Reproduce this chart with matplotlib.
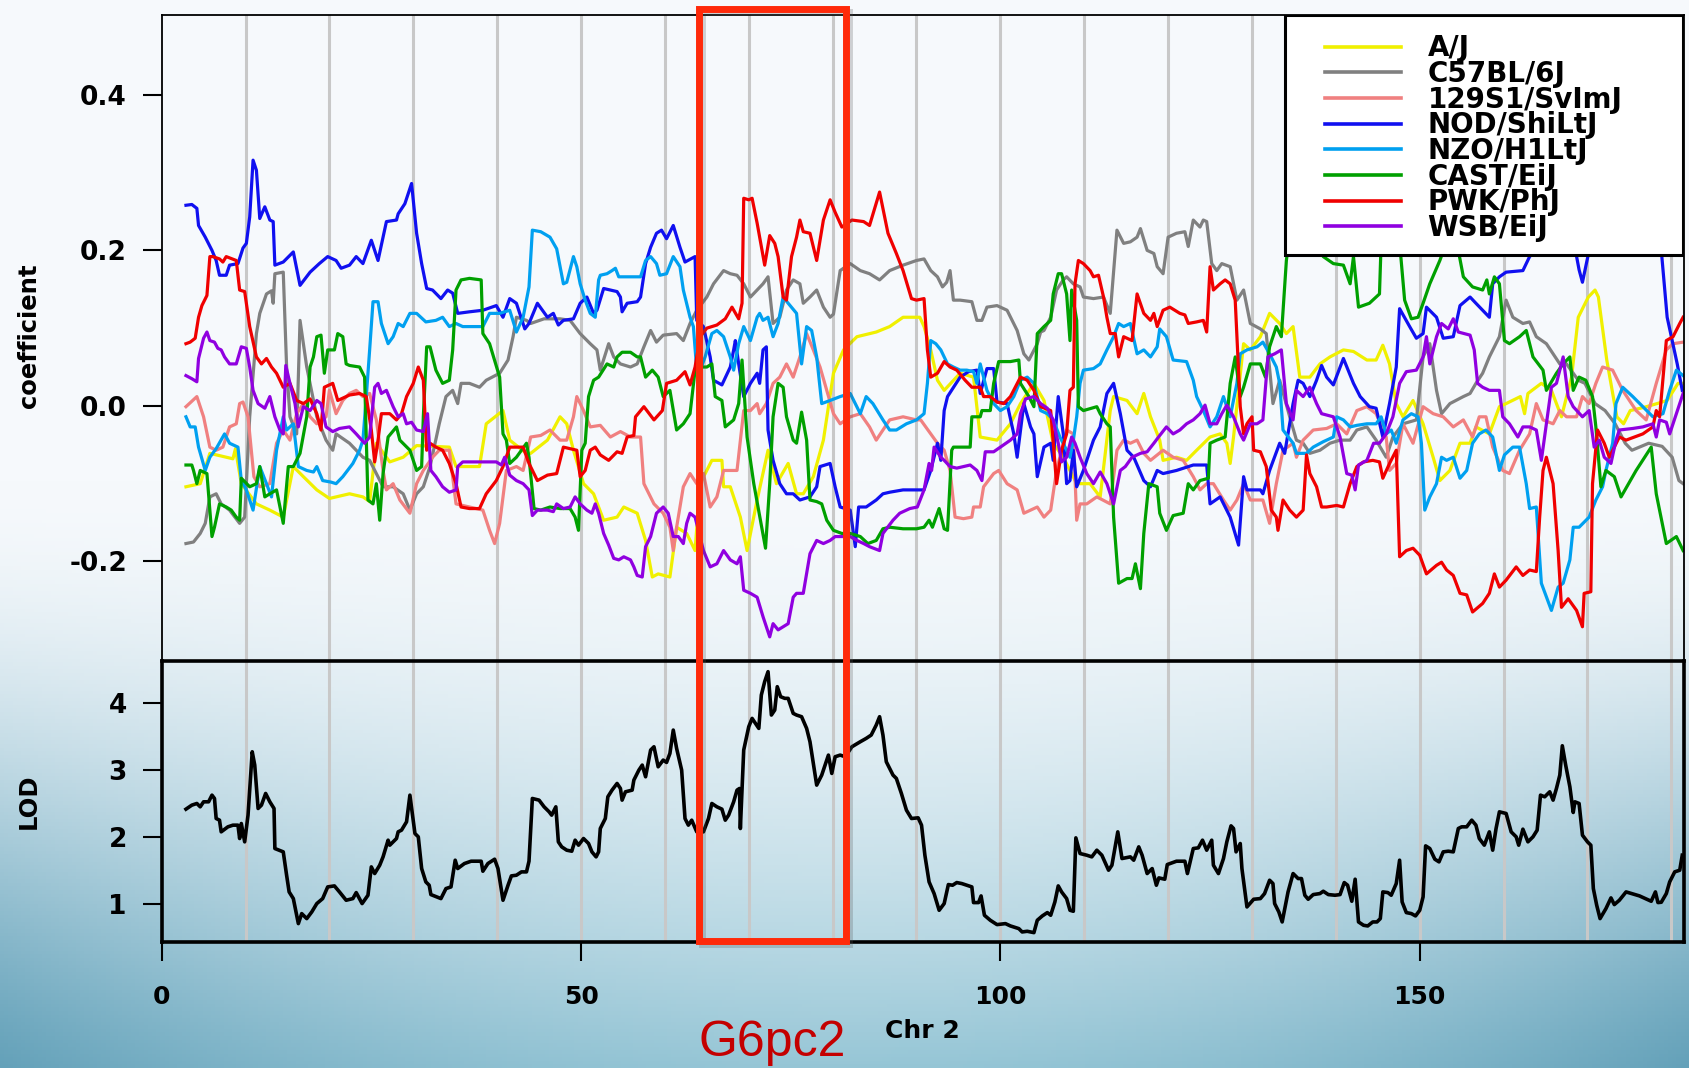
import numpy as np
import matplotlib
matplotlib.use("Agg")
import matplotlib.pyplot as plt
from matplotlib.patches import Rectangle
from matplotlib.lines import Line2D
from matplotlib.transforms import blended_transform_factory

plt.rcParams['font.family'] = ['DejaVu Sans']
plt.rcParams['font.weight'] = 'bold'
plt.rcParams['axes.unicode_minus'] = False

# founder strain coefficients on Chr 2, (position Mb, coefficient)
strains = ['A/J', 'C57BL/6J', '129S1/SvImJ', 'NOD/ShiLtJ', 'NZO/H1LtJ', 'CAST/EiJ', 'PWK/PhJ', 'WSB/EiJ']
colors = ['#F0F000', '#808080', '#F08080', '#1010F0', '#00A0F0', '#00A000', '#F00000', '#9000E0']

aj = [(2.9,-0.104),(4.6,-0.100),(5.75,-0.061),(8.5,-0.068),(8.8,-0.055),(9.5,-0.100),(11.3,-0.126),(12.9,-0.134),(14.5,-0.143),(15.7,-0.078),(16.9,-0.091),(18.5,-0.108),(20.0,-0.119),(22.4,-0.113),(24.0,-0.117),(24.8,-0.123),(25.6,-0.048),(27.2,-0.072),(28.8,-0.066),(30.4,-0.051),(34.3,-0.053),(35.1,-0.078),(37.9,-0.078),(38.7,-0.023),(40.7,-0.006),(41.5,-0.044),(43.5,-0.061),
      (44.0,-0.061),(46.0,-0.044),(47.5,-0.014),(48.3,-0.023),(49.1,-0.057),(50.3,-0.100),(51.5,-0.113),(52.7,-0.147),(54.3,-0.143),(55.1,-0.130),(56.7,-0.138),(57.7,-0.173),(58.5,-0.220),(59.2,-0.216),(60.6,-0.220),(61.4,-0.156),(62.6,-0.164),(63.6,-0.186),(64.2,-0.100),(65.6,-0.070),(66.8,-0.070),(67.0,-0.104),(67.8,-0.104),(69.0,-0.143),(69.8,-0.186),(71.0,-0.121),(72.3,-0.057),(73.3,-0.100),(74.7,-0.074),(75.7,-0.113),(76.5,-0.113),(77.7,-0.091),(78.9,-0.044),(80.1,0.042),(81.3,0.072),(82.9,0.089),(85.2,0.095),(86.8,0.102),(88.4,0.114),(90.4,0.114),
      (90.9,0.102),(91.7,0.072),(92.5,0.033),(93.3,0.020),(95.2,0.042),(96.8,0.037),(97.6,-0.040),(99.6,-0.044),(101.2,-0.023),(102.4,0.003),(104.0,0.029),(105.2,0.007),(106.3,-0.048),(107.5,-0.066),(109.1,-0.100),(110.7,-0.100),(111.9,-0.117),(113.1,-0.006),(113.5,0.012),(115.1,0.007),(116.3,-0.010),(117.1,0.016),(117.9,-0.014),(119.0,-0.044),(119.4,-0.070),(121.0,-0.066),(122.2,-0.070),(123.4,-0.057),(125.0,-0.040),(126.2,-0.036),(127.0,-0.048),(127.4,-0.074),(127.8,-0.040),(129.0,0.080),(129.8,0.072),(131.0,0.089),(132.1,0.119),(133.3,0.106),(134.1,0.093),(134.9,0.102),
      (135.7,0.037),(136.9,0.037),(138.1,0.054),(139.3,0.063),(140.9,0.072),(142.1,0.070),(143.7,0.059),(144.8,0.059),(145.6,0.078),(146.4,0.054),(147.2,0.003),(148.0,-0.014),(149.2,0.007),(150.4,-0.023),(151.6,-0.066),(152.4,-0.096),(153.6,-0.083),(154.8,-0.048),(156.0,-0.048),(156.7,-0.027),(158.3,-0.036),(159.5,-0.001),(160.3,0.003),(162.0,0.012),(162.5,-0.010),(162.9,0.016),(164.5,0.029),(165.7,0.020),(166.9,-0.014),(168.1,0.037),(168.9,0.114),(170.1,0.140),(170.9,0.149),(171.3,0.140),(172.3,0.059),(173.5,-0.014),(174.3,-0.023),(175.1,-0.006),(176.7,-0.002),(178.3,0.003),(179.5,0.007),(180.8,0.029),(181.4,0.029)]

b6 = [(2.9,-0.177),(3.8,-0.175),(4.6,-0.164),(5.2,-0.151),(5.75,-0.117),(6.5,-0.113),(7.1,-0.126),(8.1,-0.134),(9.3,-0.151),(9.9,-0.143),(10.5,-0.014),(11.3,0.093),(11.7,0.119),(12.5,0.144),(13.1,0.148),(13.3,0.132),(13.5,0.170),(14.5,0.172),(14.9,0.050),(15.3,-0.014),(16.1,-0.036),(16.5,0.110),(17.3,0.050),(18.5,-0.014),(19.6,-0.044),(20.4,-0.057),(20.8,-0.036),(22.4,-0.048),(24.0,-0.066),(24.8,-0.070),(25.6,-0.087),(26.4,-0.104),(27.6,-0.104),(28.8,-0.113),(29.6,-0.134),(30.4,-0.113),(31.2,-0.104),(32.0,-0.078),(33.1,-0.023),(33.9,0.012),(34.7,0.020),(35.3,0.003),(35.7,0.029),(36.7,0.029),(37.9,0.024),(38.7,0.033),(40.3,0.042),(41.3,0.059),(41.9,0.089),(42.3,0.114),(43.5,0.110),
      (44.0,0.106),(45.6,0.112),(47.5,0.112),(48.7,0.110),(49.9,0.093),(51.1,0.080),(51.9,0.072),(52.3,0.046),(53.3,0.080),(53.9,0.063),(54.7,0.054),(55.9,0.050),(56.7,0.054),(57.5,0.076),(58.3,0.097),(59.0,0.082),(59.8,0.091),(61.4,0.093),(62.2,0.084),(63.0,0.106),(63.8,0.123),(65.0,0.140),(65.8,0.157),(67.0,0.174),(67.8,0.170),(68.6,0.168),(69.4,0.157),(70.2,0.140),(71.0,0.149),(71.7,0.157),(72.3,0.166),(72.9,0.106),(73.7,0.114),(74.5,0.149),(75.3,0.162),(76.1,0.157),(76.5,0.132),(77.3,0.140),(78.1,0.149),(78.9,0.127),(79.7,0.114),(80.1,0.118),(80.9,0.174),(82.1,0.183),(83.3,0.174),(84.4,0.170),(85.6,0.162),(86.8,0.174),(88.4,0.181),(90.0,0.187),
      (90.9,0.189),(91.7,0.174),(92.5,0.166),(93.1,0.153),(93.6,0.159),(94.0,0.174),(94.4,0.136),(95.2,0.136),(96.6,0.134),(97.2,0.110),(97.8,0.110),(98.4,0.127),(99.6,0.129),(100.8,0.123),(102.0,0.097),(102.8,0.067),(103.4,0.059),(104.4,0.080),(104.8,0.095),(105.2,0.097),(106.0,0.114),(106.7,0.149),(107.5,0.162),(107.9,0.166),(108.7,0.157),(109.5,0.153),(109.9,0.140),(111.1,0.138),(112.3,0.140),(113.1,0.119),(113.9,0.226),(114.7,0.209),(115.5,0.211),(116.3,0.217),(116.7,0.228),(117.5,0.200),(118.3,0.196),(118.7,0.179),(119.4,0.170),(120.0,0.217),(121.0,0.222),(122.0,0.224),(122.4,0.205),(123.0,0.239),(123.8,0.230),(124.2,0.239),(124.6,0.237),(125.2,0.183),(125.8,0.174),(126.4,0.183),(127.4,0.179),(128.2,0.136),(129.0,0.149),(129.8,0.106),(131.0,0.099),(131.7,0.093),(132.5,0.003),(133.3,0.033),(134.5,-0.014),(135.3,-0.044),
      (136.1,-0.048),(136.9,-0.061),(138.1,-0.057),(139.3,-0.048),(140.5,-0.044),(141.7,-0.044),(142.5,-0.031),(143.7,-0.027),(144.8,-0.044),(146.0,-0.066),(146.8,-0.040),(148.0,-0.023),(149.6,-0.018),(150.4,0.063),(151.2,0.080),(152.0,0.020),(152.6,-0.010),(153.6,0.003),(155.2,0.012),(156.0,0.016),(156.7,0.029),(157.5,0.042),(158.3,0.063),(159.5,0.089),(160.3,0.136),(161.1,0.114),(162.3,0.106),(163.1,0.108),(163.9,0.089),(165.1,0.080),(165.9,0.067),(166.7,0.054),(167.5,0.054),(168.9,0.033),(169.7,0.029),(170.9,0.003),(172.1,-0.006),(173.3,-0.023),(174.5,-0.048),(175.3,-0.057),(177.3,-0.048),(178.9,-0.052),(180.1,-0.066),(180.9,-0.096),(181.4,-0.100)]

s129 = [(2.9,-0.001),(4.2,0.012),(5.0,-0.014),(5.75,-0.053),(6.5,-0.057),(7.3,-0.053),(8.1,-0.027),(8.9,-0.023),(9.3,0.003),(9.7,0.005),(10.3,-0.014),(11.0,-0.091),(11.7,-0.104),(12.9,-0.100),(13.7,-0.048),(14.5,-0.031),(15.3,-0.044),(16.1,-0.010),(16.9,0.003),(17.7,-0.014),(18.5,-0.023),(19.6,-0.014),(20.0,0.020),(20.8,-0.010),(21.6,0.007),(22.4,0.016),(23.2,0.020),(24.0,0.012),(24.8,0.016),(25.6,-0.018),(26.4,-0.083),(26.8,-0.108),(27.6,-0.100),(28.4,-0.121),(29.6,-0.138),(30.4,-0.100),(31.2,-0.083),(32.3,-0.066),(33.1,-0.057),(34.3,-0.057),(35.1,-0.126),(36.7,-0.130),(38.3,-0.134),(39.1,-0.160),(39.7,-0.177),(40.3,-0.151),(41.1,-0.083),(42.3,-0.078),(43.1,-0.083),
        (44.0,-0.040),(45.2,-0.038),(46.3,-0.031),(47.5,-0.044),(48.3,-0.044),(49.1,-0.014),(49.5,0.012),(50.3,-0.006),(51.1,-0.027),(52.3,-0.025),(53.5,-0.040),(54.7,-0.033),(55.9,-0.040),(57.1,-0.040),(57.5,-0.100),(58.7,-0.126),(59.8,-0.138),(60.6,-0.156),(61.0,-0.186),(61.4,-0.156),(62.2,-0.104),(63.0,-0.087),(63.8,-0.100),(64.6,-0.087),(65.4,-0.130),(66.2,-0.117),(67.0,-0.083),(68.6,-0.083),(69.4,-0.006),(70.2,-0.006),(71.0,0.003),(71.3,-0.010),(72.1,0.003),(72.9,0.029),(73.7,0.037),(74.5,0.054),(75.3,0.037),(76.1,0.063),(76.9,0.093),(77.7,0.072),(78.5,0.050),(79.3,0.020),(80.1,-0.010),(80.9,-0.023),(82.1,-0.014),(83.3,-0.010),(84.4,-0.027),(85.2,-0.044),(86.0,-0.031),(86.8,-0.018),(88.4,-0.014),(90.0,-0.018),
        (90.5,-0.018),(91.7,-0.036),(92.5,-0.048),(93.3,-0.057),(94.0,-0.083),(94.6,-0.143),(95.6,-0.145),(96.6,-0.143),(96.8,-0.130),(97.6,-0.130),(98.0,-0.104),(99.2,-0.087),(99.8,-0.083),(100.8,-0.100),(102.0,-0.108),(102.8,-0.138),(103.6,-0.134),(104.4,-0.130),(105.2,-0.143),(106.0,-0.134),(106.7,-0.083),(107.9,-0.031),(108.7,-0.036),(109.1,-0.147),(109.5,-0.126),(110.3,-0.126),(111.5,-0.117),(113.1,-0.126),(113.9,-0.057),(114.7,-0.044),(115.5,-0.048),(116.3,-0.044),(117.1,-0.061),(117.9,-0.070),(119.4,-0.057),(120.6,-0.066),(121.8,-0.070),(123.0,-0.091),(123.8,-0.108),(124.6,-0.100),(125.4,-0.100),(126.6,-0.121),(127.4,-0.134),(128.2,-0.121),(129.0,-0.100),(129.8,-0.121),(131.3,-0.121),(132.1,-0.151),(132.9,-0.100),(133.7,-0.057),(134.9,-0.048),
        (135.3,-0.066),(136.1,-0.044),(137.3,-0.031),(138.9,-0.029),(140.1,-0.023),(141.3,-0.036),(142.5,-0.006),(143.7,-0.001),(144.8,-0.010),(146.0,-0.040),(146.4,-0.083),(147.2,-0.074),(148.0,-0.023),(149.2,-0.048),(150.4,-0.001),(151.6,-0.010),(152.8,-0.014),(154.0,-0.027),(155.2,-0.018),(156.3,-0.040),(157.1,-0.014),(157.9,-0.014),(158.7,-0.053),(159.9,-0.083),(160.7,-0.087),(161.9,-0.057),(163.1,-0.036),(163.9,0.003),(164.7,-0.018),(165.9,-0.023),(166.7,-0.006),(167.5,-0.014),(168.7,-0.014),(169.4,0.012),(170.2,0.003),(171.0,0.029),(171.8,0.050),(173.0,0.046),(174.2,0.020),(175.8,-0.006),(177.0,-0.018),(178.2,0.029),(179.4,0.072),(180.2,0.080),(181.4,0.082)]

nod = [(2.9,0.258),(3.6,0.259),(4.2,0.254),(4.4,0.232),(5.2,0.217),(6.0,0.200),(6.5,0.187),(6.9,0.168),(7.7,0.168),(8.1,0.181),(9.1,0.183),(9.7,0.203),(10.1,0.209),(10.5,0.243),(10.9,0.316),(11.3,0.303),(11.7,0.241),(12.3,0.256),(12.9,0.239),(13.3,0.237),(13.5,0.181),(14.5,0.185),(15.7,0.198),(16.5,0.155),(17.7,0.172),(18.8,0.183),(19.8,0.192),(20.8,0.187),(21.4,0.177),(22.4,0.181),(23.2,0.192),(24.0,0.183),(25.0,0.213),(25.8,0.187),(26.8,0.237),(28.0,0.239),(28.2,0.247),(29.0,0.260),(29.8,0.286),(30.4,0.222),(31.0,0.183),(31.6,0.151),(32.3,0.149),(33.3,0.138),(34.1,0.149),(34.7,0.145),(35.3,0.119),(36.7,0.121),(38.3,0.123),(39.9,0.129),(40.7,0.114),(41.5,0.138),(42.3,0.132),(43.3,0.099),(43.8,0.106),
       (44.8,0.132),(46.0,0.114),(46.7,0.119),(47.3,0.104),(47.9,0.110),(49.1,0.112),(49.9,0.132),(50.7,0.140),(51.5,0.119),(51.9,0.123),(52.7,0.151),(54.3,0.147),(54.7,0.140),(54.9,0.121),(55.5,0.132),(56.7,0.134),(57.1,0.140),(57.7,0.183),(58.3,0.204),(59.0,0.222),(59.6,0.226),(60.2,0.215),(61.0,0.232),(61.8,0.204),(62.4,0.185),(63.6,0.192),(63.8,0.110),(64.6,0.102),(65.4,0.063),(65.8,0.033),(66.8,0.027),(67.8,0.050),(68.2,0.072),(68.4,0.084),(68.8,0.054),(69.4,0.012),(70.2,0.029),(71.0,0.042),(71.3,0.029),(71.7,0.072),(72.1,0.076),(72.3,-0.031),(72.9,-0.070),(73.7,-0.100),(74.5,-0.113),(75.3,-0.113),(76.1,-0.121),(77.3,-0.117),(78.1,-0.104),(78.5,-0.078),(79.7,-0.074),(80.3,-0.104),(80.9,-0.130),(82.1,-0.134),(82.7,-0.181),(83.1,-0.130),(84.0,-0.130),(85.2,-0.121),(86.0,-0.113),(86.8,-0.111),(88.4,-0.108),(90.4,-0.108),
       (90.9,-0.108),(91.7,-0.083),(92.5,-0.048),(92.9,-0.070),(93.3,-0.006),(93.7,0.012),(95.2,0.037),(96.2,0.044),(97.2,0.046),(97.6,0.016),(98.4,0.048),(99.2,0.048),(99.6,0.005),(100.8,0.003),(101.6,-0.036),(102.0,-0.066),(102.8,0.003),(103.6,-0.027),(104.0,-0.036),(104.4,-0.091),(105.2,-0.053),(106.0,-0.048),(106.3,-0.070),(106.9,0.012),(107.5,-0.036),(107.9,-0.100),(108.3,-0.096),(108.7,-0.057),(109.1,-0.104),(109.9,-0.083),(111.1,-0.044),(111.9,-0.027),(112.7,0.016),(113.5,0.029),(114.3,-0.010),(115.1,-0.057),(115.9,-0.066),(117.1,-0.096),(117.9,-0.104),(118.7,-0.083),(119.4,-0.087),(121.0,-0.083),(123.0,-0.076),(124.6,-0.076),(125.0,-0.126),(126.2,-0.117),(127.4,-0.143),(128.4,-0.179),(129.0,-0.091),(129.4,-0.108),(131.0,-0.108),(131.3,-0.113),(132.1,-0.083),(133.3,-0.048),(133.9,-0.061),(134.9,0.003),(135.5,0.033),(136.1,0.029),
       (136.9,0.012),(137.7,0.033),(138.3,0.052),(138.9,0.037),(139.7,0.027),(140.9,0.061),(142.1,0.029),(142.9,0.012),(144.0,-0.001),(144.8,-0.003),(145.6,-0.040),(146.4,0.003),(147.2,0.050),(147.6,0.125),(148.8,0.102),(149.6,0.087),(150.4,0.093),(150.8,0.127),(152.0,0.114),(152.8,0.087),(154.0,0.089),(154.8,0.129),(156.0,0.140),(156.7,0.132),(158.3,0.114),(158.7,0.157),(159.5,0.166),(160.3,0.172),(162.3,0.174),(163.1,0.192),(164.7,0.209),(165.5,0.235),(166.5,0.250),(167.5,0.240),(168.3,0.215),(169.0,0.175),(169.4,0.159),(170.2,0.200),(171.0,0.240),(172.5,0.260),(174.0,0.250),(175.5,0.235),(177.0,0.225),(178.3,0.215),(178.8,0.200),(179.5,0.114),(180.7,0.054),(181.3,0.020)]

nzo = [(2.9,-0.014),(3.4,-0.027),(4.0,-0.027),(4.4,-0.053),(5.2,-0.083),(5.75,-0.066),(6.5,-0.055),(7.5,-0.036),(8.1,-0.048),(9.1,-0.053),(9.5,-0.096),(10.1,-0.108),(10.9,-0.134),(11.7,-0.078),(12.5,-0.100),(13.1,-0.117),(13.7,-0.057),(14.5,-0.014),(14.9,-0.031),(15.7,-0.023),(16.3,-0.078),(17.3,-0.083),(18.1,-0.085),(18.5,-0.078),(19.2,-0.096),(20.2,-0.098),(20.8,-0.100),(21.6,-0.091),(22.8,-0.074),(23.6,-0.057),(24.0,-0.044),(24.4,0.012),(24.8,0.072),(25.2,0.134),(25.8,0.134),(26.2,0.106),(27.0,0.080),(27.6,0.089),(28.2,0.106),(28.8,0.102),(29.6,0.119),(30.4,0.119),(31.5,0.108),(32.7,0.110),(33.5,0.114),(34.3,0.102),(35.1,0.106),(35.9,0.102),(36.7,0.102),(38.3,0.102),(39.1,0.119),(40.3,0.119),(41.5,0.123),(42.3,0.095),(43.1,0.114),(43.8,0.153),(44.2,0.226),
       (45.2,0.224),(46.3,0.217),(47.1,0.202),(47.9,0.157),(48.3,0.159),(49.1,0.192),(49.5,0.179),(49.9,0.157),(50.5,0.136),(51.1,0.119),(51.7,0.114),(52.1,0.162),(52.3,0.168),(53.1,0.170),(53.7,0.174),(54.1,0.177),(54.5,0.166),(55.9,0.166),(57.1,0.166),(57.7,0.187),(58.3,0.192),(59.0,0.183),(59.4,0.168),(60.2,0.170),(61.0,0.192),(61.8,0.179),(62.2,0.149),(63.0,0.114),(63.4,0.102),(63.8,0.046),(64.2,0.046),(64.8,0.063),(65.6,0.093),(66.2,0.097),(67.0,0.089),(67.8,0.063),(68.2,0.046),(68.8,0.080),(69.4,0.102),(70.2,0.084),(71.0,0.114),(71.3,0.119),(71.7,0.110),(72.3,0.114),(72.9,0.089),(73.5,0.106),(74.1,0.140),(74.7,0.132),(75.7,0.119),(76.3,0.054),(76.9,0.102),(77.5,0.097),(78.1,0.063),(78.7,0.003),(79.7,0.007),(80.9,0.012),(82.1,0.016),(83.3,-0.010),(84.0,0.012),(84.8,0.003),(86.0,-0.018),(86.8,-0.031),(87.6,-0.031),(88.8,-0.023),(90.0,-0.018),
       (90.9,-0.010),(91.3,0.029),(91.7,0.084),(92.3,0.080),(92.9,0.072),(93.3,0.063),(93.7,0.054),(94.4,0.050),(95.2,0.046),(96.0,0.046),(96.8,0.044),(97.2,0.029),(97.6,0.054),(98.4,0.020),(99.2,0.003),(100.0,-0.006),(100.8,-0.001),(101.6,0.012),(102.4,0.033),(103.2,0.037),(104.0,0.029),(104.8,-0.006),(105.6,-0.010),(106.3,-0.018),(107.1,-0.040),(107.9,-0.057),(108.3,-0.066),(108.7,-0.044),(109.1,-0.014),(109.5,0.029),(109.9,0.046),(111.1,0.048),(111.9,0.054),(112.7,0.072),(113.5,0.089),(114.1,0.106),(114.7,0.102),(115.5,0.106),(116.3,0.067),(117.1,0.072),(117.9,0.063),(118.7,0.076),(119.0,0.099),(119.8,0.089),(120.6,0.059),(122.2,0.057),(123.0,0.033),(123.4,0.012),(124.2,-0.006),(125.0,-0.027),(125.8,-0.014),(126.6,0.012),(127.4,-0.014),(128.2,0.029),(128.6,0.067),(129.4,0.072),(130.6,0.076),(131.3,0.082),(132.1,0.067),(132.9,0.050),(133.3,0.029),(133.7,-0.031),(134.9,-0.048),
       (135.3,-0.061),(136.5,-0.061),(137.3,-0.053),(138.5,-0.046),(139.7,-0.040),(140.1,-0.014),(140.9,-0.018),(141.7,-0.027),(142.5,-0.025),(143.7,-0.023),(144.8,-0.023),(145.4,-0.014),(146.0,-0.036),(146.6,-0.031),(147.2,-0.048),(148.0,-0.018),(149.0,-0.010),(149.8,-0.014),(150.2,-0.048),(150.6,-0.134),(151.2,-0.117),(152.0,-0.100),(152.6,-0.066),(153.2,-0.070),(154.0,-0.066),(154.8,-0.093),(155.6,-0.083),(156.3,-0.048),(157.1,-0.036),(157.9,-0.031),(158.7,-0.040),(159.5,-0.083),(160.1,-0.063),(161.1,-0.053),(161.9,-0.053),(162.7,-0.100),(163.1,-0.132),(163.9,-0.130),(164.5,-0.228),(165.7,-0.263),(166.5,-0.233),(167.1,-0.228),(167.9,-0.198),(168.3,-0.156),(169.0,-0.156),(170.2,-0.143),(171.0,-0.121),(171.8,-0.104),(172.2,-0.083),(173.0,-0.048),(173.4,0.003),(174.2,0.024),(175.4,0.012),(176.6,-0.001),(177.8,-0.014),(179.0,-0.010),(179.8,0.020),(180.6,0.046),(181.4,0.039)]

cast = [(2.9,-0.076),(3.6,-0.076),(3.8,-0.083),(4.2,-0.100),(4.6,-0.083),(5.4,-0.087),(6.0,-0.168),(6.3,-0.156),(6.9,-0.126),(7.7,-0.130),(8.3,-0.134),(8.9,-0.143),(9.3,-0.147),(9.5,-0.093),(10.5,-0.104),(11.3,-0.100),(11.7,-0.078),(12.3,-0.117),(12.9,-0.113),(13.7,-0.108),(14.5,-0.151),(15.1,-0.078),(15.7,-0.078),(16.5,-0.061),(17.3,-0.014),(17.7,0.050),(18.1,0.063),(18.5,0.089),(19.0,0.091),(19.4,0.042),(19.8,0.072),(20.6,0.072),(21.0,0.093),(21.6,0.089),(22.0,0.054),(22.4,0.052),(23.6,0.050),(24.2,0.037),(24.6,-0.121),(25.2,-0.126),(25.6,-0.100),(26.0,-0.147),(26.4,-0.087),(27.0,-0.040),(28.0,-0.027),(28.4,-0.044),(29.6,-0.057),(30.4,-0.083),(31.0,-0.078),(31.2,-0.014),(31.6,0.076),(32.0,0.076),(32.7,0.046),(33.5,0.029),(34.3,0.033),(34.7,0.072),(35.1,0.149),(35.7,0.162),(36.7,0.164),(38.1,0.162),(38.3,0.093),(39.1,0.080),(40.3,0.037),(40.7,-0.036),(41.1,-0.044),(41.5,-0.074),(42.3,-0.066),(43.5,-0.048),(43.8,-0.066),(44.4,-0.132),
        (45.2,-0.134),(46.3,-0.130),(47.5,-0.132),(48.7,-0.132),(49.3,-0.143),(49.7,-0.160),(50.1,-0.057),(50.5,-0.048),(50.9,0.012),(51.5,0.033),(52.1,0.037),(53.1,0.054),(53.9,0.050),(54.3,0.063),(54.9,0.069),(55.9,0.069),(56.7,0.063),(57.1,0.063),(57.7,0.037),(58.5,0.046),(59.2,0.037),(59.8,0.012),(60.6,0.020),(61.4,-0.031),(62.2,-0.023),(63.0,-0.010),(63.6,0.046),(64.0,0.050),(65.0,0.050),(65.6,0.054),(66.0,0.012),(66.8,0.007),(67.2,-0.027),(68.2,-0.018),(68.8,0.003),(69.2,0.059),(69.8,-0.040),(70.6,-0.100),(72.0,-0.183),(72.5,-0.100),(72.9,-0.014),(73.5,0.029),(74.1,0.024),(74.5,-0.014),(75.3,-0.044),(75.7,-0.048),(76.3,-0.008),(76.9,-0.044),(77.3,-0.121),(78.1,-0.123),(78.7,-0.126),(79.3,-0.147),(80.1,-0.160),(81.1,-0.164),(82.1,-0.164),(83.3,-0.168),(84.2,-0.177),(85.2,-0.173),(86.0,-0.158),(86.8,-0.156),(88.4,-0.158),(90.0,-0.158),
        (90.9,-0.156),(91.5,-0.147),(91.9,-0.156),(92.7,-0.132),(93.3,-0.158),(93.7,-0.160),(94.2,-0.057),(94.4,-0.053),(96.4,-0.053),(96.6,-0.014),(97.6,-0.014),(97.8,-0.006),(98.8,-0.006),(99.2,0.029),(99.8,0.057),(101.2,0.057),(102.2,0.059),(102.4,0.029),(103.4,0.012),(104.0,-0.001),(104.4,0.093),(105.2,0.102),(106.0,0.110),(106.3,0.144),(106.9,0.170),(107.3,0.170),(107.9,0.144),(108.3,0.084),(108.5,0.149),(109.1,0.110),(109.3,-0.001),(109.9,-0.006),(111.5,-0.001),(111.9,-0.010),(112.7,-0.023),(113.1,-0.027),(113.5,-0.143),(114.1,-0.228),(115.1,-0.222),(115.7,-0.222),(116.1,-0.203),(116.7,-0.235),(117.1,-0.164),(117.7,-0.100),(118.7,-0.104),(119.0,-0.138),(119.8,-0.160),(120.6,-0.141),(121.8,-0.138),(122.4,-0.100),(123.0,-0.108),(123.8,-0.096),(124.8,-0.093),(125.0,-0.048),(125.8,-0.044),(126.8,-0.040),(127.4,0.029),(128.0,0.063),(128.6,0.012),(129.0,0.024),(129.8,0.054),(131.0,0.054),(131.6,0.037),(132.1,0.076),(132.9,0.102),(133.5,0.089),(134.1,0.187),(134.5,0.222),
        (135.5,0.260),(136.5,0.240),(137.5,0.210),(138.5,0.192),(139.7,0.183),(140.9,0.181),(141.7,0.157),(142.1,0.192),(142.7,0.127),(144.0,0.132),(145.2,0.144),(145.4,0.210),(146.5,0.250),(147.6,0.210),(148.2,0.136),(149.0,0.112),(149.8,0.114),(150.4,0.132),(151.2,0.157),(152.4,0.187),(153.5,0.220),(154.6,0.200),(155.2,0.166),(156.3,0.153),(157.5,0.149),(158.0,0.162),(158.3,0.144),(158.9,0.166),(159.5,0.157),(160.1,0.084),(160.7,0.080),(161.9,0.089),(162.7,0.097),(163.5,0.063),(164.7,0.046),(165.1,0.020),(166.3,0.042),(167.1,0.054),(167.9,0.063),(168.3,0.020),(169.0,0.037),(169.8,0.033),(170.6,0.012),(171.0,-0.027),(171.6,-0.104),(172.2,-0.083),(173.2,-0.091),(174.0,-0.117),(175.8,-0.083),(177.6,-0.053),(178.2,-0.113),(179.4,-0.177),(180.6,-0.168),(181.4,-0.186)]

pwk = [(2.9,0.080),(3.4,0.082),(4.0,0.087),(4.4,0.114),(4.8,0.129),(5.4,0.142),(5.75,0.192),(6.1,0.192),(6.9,0.189),(7.3,0.185),(7.7,0.192),(8.9,0.187),(9.3,0.149),(9.9,0.147),(10.5,0.102),(11.3,0.063),(11.9,0.054),(12.5,0.061),(13.1,0.050),(13.7,0.042),(14.5,0.024),(15.3,0.029),(16.1,0.007),(16.9,0.003),(17.7,0.009),(18.5,-0.010),(19.0,-0.031),(19.4,0.024),(20.4,0.029),(21.0,0.007),(22.4,0.014),(23.6,0.016),(24.4,0.012),(25.0,-0.031),(25.4,-0.072),(25.8,-0.044),(26.2,-0.010),(27.2,-0.010),(28.0,-0.018),(28.6,-0.010),(29.2,0.012),(30.0,0.029),(30.6,0.050),(31.2,0.033),(31.6,-0.057),(32.0,-0.048),(32.7,-0.053),(33.5,-0.057),(34.3,-0.074),(35.1,-0.100),(35.7,-0.130),(36.7,-0.132),(37.9,-0.132),(38.7,-0.113),(39.9,-0.096),(40.7,-0.078),(41.5,-0.053),(43.1,-0.053),(43.8,-0.074),
       (44.8,-0.096),(46.0,-0.089),(47.1,-0.087),(47.9,-0.053),(49.5,-0.057),(49.9,-0.091),(50.5,-0.083),(51.1,-0.057),(51.7,-0.053),(52.3,-0.063),(53.3,-0.070),(54.3,-0.059),(54.9,-0.061),(55.5,-0.040),(56.3,-0.038),(56.5,-0.014),(57.5,-0.001),(58.7,-0.018),(59.7,-0.006),(60.2,0.029),(61.4,0.033),(62.4,0.044),(63.0,0.027),(63.6,0.050),(64.2,0.089),(65.0,0.100),(66.2,0.104),(67.2,0.112),(68.0,0.127),(68.8,0.112),(69.2,0.132),(69.4,0.267),(70.0,0.265),(70.4,0.267),(71.0,0.235),(71.3,0.217),(71.9,0.181),(72.5,0.219),(73.1,0.209),(73.5,0.192),(74.1,0.140),(74.5,0.136),(75.1,0.192),(75.7,0.217),(76.1,0.239),(76.5,0.224),(77.3,0.222),(78.1,0.187),(78.9,0.239),(79.7,0.265),(80.3,0.249),(81.1,0.230),(82.3,0.239),(83.7,0.237),(84.4,0.232),(85.6,0.275),(86.6,0.222),(87.6,0.196),(88.4,0.174),(89.4,0.138),(90.0,0.136),(90.9,0.138),
       (91.3,0.072),(91.7,0.037),(92.5,0.042),(93.3,0.057),(94.0,0.050),(94.8,0.046),(95.8,0.033),(96.6,0.024),(97.6,0.024),(98.0,0.012),(98.8,0.012),(99.6,0.005),(100.4,0.003),(101.2,0.012),(102.4,0.037),(103.2,0.033),(104.0,0.020),(104.8,-0.001),(106.0,-0.006),(106.7,-0.100),(107.3,-0.057),(107.9,-0.036),(108.3,0.020),(108.7,0.024),(108.9,0.157),(109.3,0.187),(109.9,0.183),(110.7,0.174),(111.1,0.166),(111.7,0.168),(112.3,0.140),(112.7,0.114),(113.1,0.093),(113.7,0.093),(114.1,0.063),(114.7,0.089),(115.7,0.084),(116.3,0.144),(117.1,0.119),(117.9,0.110),(118.3,0.119),(118.7,0.102),(119.4,0.123),(120.2,0.127),(121.4,0.119),(122.0,0.117),(122.4,0.106),(123.4,0.108),(124.2,0.110),(124.6,0.095),(125.0,0.179),(125.4,0.149),(126.2,0.157),(126.8,0.162),(127.4,0.157),(128.0,0.136),(128.6,-0.001),(129.0,-0.036),(129.4,-0.023),(130.0,-0.014),(130.2,-0.057),(131.0,-0.059),(131.7,-0.078),(132.3,-0.134),(132.9,-0.143),(133.1,-0.160),(133.7,-0.121),(134.5,-0.134),(135.3,-0.143),(136.1,-0.134),(136.5,-0.063),
       (136.9,-0.087),(137.7,-0.104),(138.3,-0.130),(138.9,-0.130),(140.1,-0.128),(140.9,-0.130),(141.7,-0.100),(142.5,-0.078),(143.3,-0.072),(144.4,-0.070),(145.2,-0.072),(145.6,-0.093),(146.4,-0.074),(147.2,-0.057),(147.6,-0.194),(148.4,-0.186),(149.2,-0.183),(150.0,-0.192),(150.8,-0.216),(152.0,-0.205),(152.6,-0.201),(153.2,-0.211),(154.0,-0.218),(154.8,-0.241),(155.6,-0.243),(156.3,-0.265),(157.5,-0.254),(158.3,-0.241),(158.9,-0.216),(159.5,-0.233),(160.3,-0.224),(161.5,-0.207),(162.3,-0.218),(163.1,-0.211),(163.9,-0.213),(164.3,-0.143),(164.7,-0.083),(165.1,-0.066),(165.9,-0.100),(166.5,-0.186),(166.9,-0.259),(167.7,-0.248),(168.7,-0.263),(169.4,-0.284),(169.6,-0.241),(170.4,-0.239),(170.6,-0.100),(171.2,-0.031),(172.0,-0.048),(172.6,-0.066),(173.8,-0.040),(174.6,-0.044),(176.6,-0.036),(177.8,-0.027),(178.2,-0.006),(178.6,-0.014),(179.4,0.084),(180.2,0.089),(181.0,0.106),(181.4,0.114)]

wsb = [(2.9,0.039),(3.6,0.035),(4.2,0.031),(4.4,0.061),(5.0,0.087),(5.4,0.095),(5.75,0.084),(6.3,0.082),(6.7,0.074),(7.1,0.072),(7.5,0.063),(8.1,0.054),(8.9,0.054),(9.5,0.076),(10.1,0.074),(10.5,0.050),(10.9,0.020),(11.5,0.003),(12.3,-0.003),(12.9,0.012),(13.5,-0.014),(14.1,-0.031),(14.5,-0.036),(14.8,0.052),(15.3,0.029),(15.9,0.003),(16.3,-0.027),(16.9,-0.001),(17.7,-0.006),(18.5,0.007),(19.0,0.003),(19.6,-0.027),(20.4,-0.033),(21.2,-0.029),(22.4,-0.027),(23.2,-0.036),(24.2,-0.048),(24.8,-0.040),(25.4,0.024),(25.8,0.029),(26.2,0.016),(26.8,0.020),(27.6,-0.001),(28.2,-0.014),(28.8,-0.010),(29.2,-0.023),(29.8,-0.021),(30.4,-0.031),(31.2,-0.033),(31.7,-0.010),(32.1,-0.083),(32.7,-0.091),(33.5,-0.104),(34.3,-0.111),(35.1,-0.108),(35.3,-0.078),(35.9,-0.072),(37.9,-0.072),(39.9,-0.072),(40.5,-0.076),(40.9,-0.066),(41.5,-0.089),(42.3,-0.096),(43.1,-0.100),(43.8,-0.108),(44.2,-0.141),
       (44.8,-0.134),(46.0,-0.134),(46.7,-0.136),(47.1,-0.126),(47.9,-0.132),(48.7,-0.130),(49.3,-0.117),(49.9,-0.126),(50.7,-0.134),(51.3,-0.138),(51.7,-0.126),(52.1,-0.138),(52.7,-0.164),(53.3,-0.179),(53.9,-0.196),(54.5,-0.198),(55.1,-0.194),(55.9,-0.198),(56.3,-0.207),(56.7,-0.218),(57.3,-0.220),(57.7,-0.181),(58.3,-0.168),(59.0,-0.138),(59.8,-0.130),(60.4,-0.138),(61.0,-0.168),(61.6,-0.168),(62.2,-0.177),(62.6,-0.151),(63.0,-0.138),(63.6,-0.143),(64.6,-0.186),(65.4,-0.207),(66.2,-0.203),(67.0,-0.186),(67.8,-0.198),(68.6,-0.203),(69.0,-0.194),(69.4,-0.237),(70.2,-0.241),(71.0,-0.246),(71.7,-0.271),(72.5,-0.297),(72.9,-0.280),(73.5,-0.288),(74.1,-0.284),(74.7,-0.280),(75.3,-0.246),(75.7,-0.241),(76.5,-0.241),(77.3,-0.190),(78.1,-0.173),(78.9,-0.177),(79.7,-0.173),(80.3,-0.168),(81.3,-0.168),(82.1,-0.168),(82.9,-0.173),(83.7,-0.177),(84.4,-0.181),(85.6,-0.186),(86.0,-0.164),(87.2,-0.147),(88.0,-0.138),(89.2,-0.132),(90.1,-0.130),
       (90.9,-0.108),(91.5,-0.074),(91.8,-0.083),(92.1,-0.053),(92.9,-0.066),(93.3,-0.070),(94.0,-0.078),(94.8,-0.080),(95.6,-0.078),(96.4,-0.076),(97.2,-0.083),(97.8,-0.096),(98.2,-0.059),(99.2,-0.059),(100.0,-0.053),(101.2,-0.044),(102.0,-0.036),(102.4,-0.010),(103.0,0.009),(104.0,0.012),(104.8,0.003),(105.6,-0.003),(106.3,-0.018),(106.9,-0.048),(107.3,-0.072),(107.9,-0.066),(108.5,-0.040),(108.9,-0.048),(109.5,-0.066),(110.3,-0.087),(111.1,-0.100),(111.9,-0.085),(112.7,-0.100),(113.5,-0.126),(114.3,-0.083),(114.9,-0.078),(115.7,-0.066),(116.7,-0.061),(117.5,-0.059),(118.3,-0.048),(119.0,-0.038),(119.8,-0.027),(120.6,-0.036),(121.4,-0.031),(122.2,-0.023),(123.0,-0.018),(123.8,-0.010),(124.4,0.001),(125.0,-0.023),(125.8,-0.023),(126.4,-0.010),(127.0,0.001),(127.8,-0.014),(128.6,-0.036),(129.0,-0.044),(129.8,-0.023),(130.6,-0.023),(131.3,-0.018),(131.9,0.063),(132.7,0.067),(133.5,0.072),(134.1,0.003),(134.9,-0.018),
       (135.3,0.020),(136.1,0.012),(136.9,0.024),(137.7,0.003),(138.3,-0.010),(139.7,-0.014),(140.5,-0.040),(141.3,-0.087),(141.9,-0.089),(142.3,-0.108),(142.7,-0.076),(143.7,-0.070),(144.5,-0.048),(145.2,-0.048),(146.0,-0.036),(146.8,-0.014),(147.6,0.029),(148.4,0.044),(149.6,0.046),(150.4,0.063),(150.8,0.089),(151.2,0.054),(152.0,0.089),(152.6,0.106),(153.4,0.099),(154.0,0.112),(154.6,0.095),(156.0,0.091),(156.5,0.072),(156.9,0.029),(157.5,0.024),(158.3,0.020),(159.5,0.020),(159.9,-0.014),(160.7,-0.023),(161.7,-0.040),(162.3,-0.027),(163.1,-0.027),(163.9,-0.031),(164.5,-0.070),(165.1,-0.023),(165.7,0.024),(166.3,0.029),(166.7,0.046),(167.1,0.063),(167.7,0.012),(168.3,-0.001),(169.4,-0.014),(170.2,-0.006),(170.8,-0.053),(171.4,-0.044),(172.0,-0.066),(172.8,-0.074),(173.4,-0.044),(173.8,-0.031),(175.4,-0.029),(176.6,-0.027),(177.8,-0.023),(178.2,-0.040),(178.6,-0.018),(179.4,-0.021),(179.8,-0.036),(180.6,-0.010),(181.4,0.016)]

# LOD profile
lod = [(2.9,2.415),(3.6,2.475),(4.2,2.50),(4.6,2.45),(5.0,2.525),(5.6,2.525),(6.0,2.625),(6.3,2.575),(6.5,2.275),(6.9,2.25),(7.1,2.075),(7.9,2.15),(8.5,2.175),(9.1,2.175),(9.3,1.975),(9.5,2.2),(9.9,1.925),(10.3,2.325),(10.8,3.275),(11.1,3.075),(11.5,2.425),(11.9,2.475),(12.4,2.65),(12.9,2.525),(13.4,2.425),(13.5,1.825),(14.5,1.775),(14.9,1.425),(15.2,1.175),(15.7,1.075),(16.3,0.70),(16.7,0.85),(17.3,0.775),(17.9,0.875),(18.5,1.0),(19.2,1.075),(19.8,1.25),(20.6,1.265),(21.2,1.175),(22.0,1.05),(22.8,1.075),(23.2,1.165),(23.9,1.0),(24.6,1.125),(25.0,1.55),(25.4,1.45),(26.0,1.575),(26.4,1.70),(27.0,1.95),(27.2,1.875),(28.0,1.975),(28.2,2.075),(28.6,2.1),(29.2,2.225),(29.6,2.625),(30.2,2.05),(30.6,2.0),(31.0,1.525),(31.5,1.325),(31.9,1.275),(32.1,1.135),(33.3,1.075),(33.9,1.225),(34.5,1.25),(35.0,1.65),(35.3,1.525),(36.1,1.60),(36.9,1.635),(38.1,1.635),(38.3,1.485),(38.9,1.60),(39.7,1.665),(40.1,1.525),(40.7,1.05),(41.3,1.275),(41.7,1.415),(42.3,1.425),(42.9,1.475),(43.5,1.475),(43.8,1.635),(44.2,2.575),
       (45.0,2.55),(45.6,2.45),(46.2,2.375),(46.5,2.325),(47.0,2.45),(47.3,1.925),(47.7,1.85),(48.3,1.80),(48.9,1.785),(49.3,1.95),(49.7,1.875),(50.3,1.975),(50.9,1.90),(51.3,1.775),(51.8,1.70),(52.1,1.775),(52.3,2.125),(52.9,2.275),(53.2,2.60),(53.7,2.70),(54.3,2.80),(54.7,2.725),(54.9,2.55),(55.3,2.675),(56.1,2.70),(56.3,2.85),(56.9,3.0),(57.3,3.075),(57.7,2.90),(58.3,3.30),(58.7,3.35),(59.2,3.05),(59.8,3.15),(60.2,3.115),(60.6,3.25),(61.0,3.60),(61.4,3.325),(62.0,3.0),(62.4,2.275),(62.8,2.175),(63.2,2.25),(63.8,2.075),(64.6,2.075),(65.2,2.275),(65.6,2.50),(66.2,2.45),(66.8,2.415),(67.2,2.25),(67.6,2.325),(68.2,2.525),(68.6,2.70),(68.9,2.725),(69.0,2.125),(69.4,3.30),(70.0,3.65),(70.4,3.775),(70.8,3.70),(71.2,3.625),(71.5,4.125),(71.9,4.325),(72.3,4.475),(72.7,3.825),(73.1,3.90),(73.4,4.25),(73.8,4.10),(74.3,4.075),(74.7,4.075),(75.3,3.85),(75.7,3.825),(76.3,3.80),(76.9,3.625),(77.3,3.425),(78.1,2.775),(78.7,2.925),(79.5,3.225),(79.9,2.95),(80.3,3.20),(80.9,3.225),(81.5,3.20),(82.3,3.35),(83.3,3.425),(84.0,3.475),(84.6,3.525),(85.2,3.675),(85.6,3.80),(86.0,3.525),(86.4,3.125),(87.2,2.925),(87.6,2.875),(88.2,2.65),(88.8,2.40),(89.4,2.275),(90.2,2.285),(90.6,2.175),(91.0,1.725),
       (91.5,1.325),(92.1,1.15),(92.7,0.90),(93.3,1.0),(93.8,1.285),(94.3,1.275),(94.8,1.315),(95.4,1.30),(96.0,1.275),(96.6,1.25),(96.8,1.015),(97.4,1.015),(97.7,1.115),(98.1,0.825),(98.8,0.75),(99.6,0.685),(100.6,0.70),(101.2,0.665),(102.2,0.625),(102.6,0.575),(103.2,0.585),(104.0,0.565),(104.4,0.75),(105.0,0.815),(105.6,0.865),(106.0,0.825),(106.5,1.025),(106.9,1.265),(107.3,1.175),(107.9,1.075),(108.3,0.90),(108.7,0.885),(109.0,1.985),(109.5,1.75),(110.3,1.725),(110.9,1.70),(111.5,1.80),(112.1,1.725),(112.9,1.50),(113.3,1.575),(114.0,2.075),(114.5,1.675),(115.5,1.70),(115.9,1.65),(116.5,1.85),(116.9,1.725),(117.5,1.45),(118.1,1.525),(118.6,1.275),(118.9,1.385),(119.6,1.365),(119.9,1.585),(121.0,1.635),(122.0,1.635),(122.3,1.45),(123.0,1.825),(123.6,1.835),(124.1,1.95),(124.6,1.80),(125.2,1.95),(125.4,1.575),(126.0,1.45),(126.6,1.675),(127.0,1.925),(127.5,2.165),(127.8,2.125),(128.1,1.775),(128.6,1.90),(128.8,1.525),(129.4,0.95),(130.2,1.065),(131.0,1.075),(131.5,1.15),(132.1,1.35),(132.5,1.30),(132.7,1.0),(133.2,0.875),(133.6,0.725),(134.3,1.175),
       (134.9,1.45),(135.5,1.375),(135.9,1.375),(136.3,1.125),(136.7,1.065),(137.3,1.135),(138.1,1.15),(138.5,1.185),(139.1,1.135),(139.9,1.125),(140.5,1.135),(141.0,1.315),(141.4,1.275),(141.9,1.035),(142.3,1.365),(142.7,0.725),(143.3,0.675),(143.8,0.665),(144.4,0.725),(144.9,0.725),(145.3,0.775),(145.6,1.175),(146.2,1.165),(146.6,1.125),(147.2,1.30),(147.6,1.65),(147.9,1.025),(148.4,0.865),(149.0,0.85),(149.5,0.815),(150.0,0.90),(150.4,1.10),(150.7,1.865),(151.2,1.825),(151.8,1.665),(152.3,1.625),(152.8,1.775),(153.4,1.785),(154.0,1.775),(154.6,2.125),(155.0,2.15),(155.6,2.15),(156.2,2.25),(156.7,2.175),(157.1,1.975),(157.7,1.875),(158.3,2.075),(158.7,1.80),(159.1,2.125),(159.5,2.375),(160.3,2.35),(160.9,2.075),(161.5,2.0),(161.8,1.875),(162.3,2.115),(162.9,1.925),(163.5,2.0),(164.0,2.10),(164.4,2.625),(164.9,2.60),(165.5,2.675),(165.9,2.55),(166.3,2.725),(166.7,2.925),(167.0,3.365),(167.4,3.075),(167.9,2.75),(168.3,2.365),(168.5,2.525),(169.0,2.50),(169.4,2.025),(170.0,1.925),(170.4,1.875),(170.7,1.225),(171.1,0.975),(171.5,0.775),(172.2,0.925),(172.8,1.085),(173.2,0.985),(173.8,1.05),(174.6,1.175),(176.2,1.115),(177.6,1.035),(178.1,1.175),(178.4,1.015),(178.8,1.02),(179.4,1.15),(179.8,1.325),(180.4,1.475),(181.0,1.50),(181.3,1.725)]

coef_series = [aj, b6, s129, nod, nzo, cast, pwk, wsb]
grid_x = list(range(10, 181, 10))
region = (64.1, 81.6)   # highlighted interval (G6pc2)

# ---------- figure ----------
W, H = 1689, 1068
fig = plt.figure(figsize=(W / 100, H / 100), dpi=100)

# slide-like background gradient
yy, xx = np.mgrid[0:1:300j, 0:1:400j]
t = np.clip((yy - 0.45) / 0.55, 0, 1) ** 1.8
top_c = np.array([246, 249, 252]) / 255
bot_c = np.array([150, 198, 214]) / 255
edge_c = np.array([88, 152, 178]) / 255
img = top_c + (bot_c - top_c) * t[..., None]
d = (t * (np.abs(xx - 0.5) * 2) ** 2 * 0.8)[..., None]
img = img + (edge_c - img) * d
bg = fig.add_axes([0, 0, 1, 1])
bg.imshow(img, aspect='auto', extent=[0, 1, 0, 1], origin='upper')
bg.axis('off')
bg.set_zorder(-5)

ax1 = fig.add_axes([0.0957, 0.3811, 0.9013, 0.6051])
ax2 = fig.add_axes([0.0957, 0.1177, 0.9013, 0.2634], sharex=ax1)
for ax in (ax1, ax2):
    ax.set_facecolor('none')
    for gx in grid_x:
        ax.axvline(gx, color='#c8c8c8', lw=2.2, zorder=0)

for pts, col, name in zip(coef_series, colors, strains):
    x, y = zip(*pts)
    ax1.plot(x, y, color=col, lw=2.3, label=name, zorder=2)

lx, ly = zip(*lod)
ax2.plot(lx, ly, color='black', lw=2.6, zorder=2)

ax1.set_xlim(0, 181.5)
ax1.set_ylim(-0.328, 0.503)
ax2.set_ylim(0.42, 4.635)

ax1.set_yticks([-0.2, 0.0, 0.2, 0.4])
ax1.set_yticklabels(['-0.2', '0.0', '0.2', '0.4'])
ax2.set_yticks([1, 2, 3, 4])
ax2.set_xticks([0, 50, 100, 150])

ax1.tick_params(axis='x', bottom=False, labelbottom=False)
ax1.tick_params(axis='y', direction='out', length=14, width=1.5, pad=11, labelsize=19)
ax2.tick_params(axis='y', direction='out', length=14, width=1.5, pad=11, labelsize=19)
ax2.tick_params(axis='x', direction='out', length=14, width=1.5, pad=17, labelsize=18)

for s in ax1.spines.values():
    s.set_linewidth(1.3)
ax1.spines['bottom'].set_visible(False)
for s in ax2.spines.values():
    s.set_linewidth(2.6)

# legend box (R style: wide frame, pinned to the top right corner)
ax1.add_patch(Rectangle((0.738, 0.628), 0.2613, 0.372, transform=ax1.transAxes,
                        facecolor='white', edgecolor='black', lw=2.2, zorder=5))
handles = [Line2D([], [], color=c, lw=2.6) for c in colors]
leg = ax1.legend(handles, strains, loc='upper left', bbox_to_anchor=(0.755, 0.991),
                 frameon=False, borderpad=0, handlelength=2.73, handletextpad=0.97,
                 labelspacing=-0.085, prop=dict(weight='bold', size=20))
leg.set_zorder(6)

# axis labels
fig.text(0.0172, 0.6854, 'coefficient', rotation=90, ha='center', va='center', fontsize=17.5)
fig.text(0.0172, 0.2500, 'LOD', rotation=90, ha='center', va='center', fontsize=17.5)
fig.text(0.5463, 0.0346, 'Chr 2', ha='center', va='center', fontsize=18)

# highlighted interval around G6pc2
tr = blended_transform_factory(ax2.transData, fig.transFigure)
shadow = Rectangle((region[0] + 0.35, 0.116), region[1] - region[0], 0.873, transform=tr,
                   fill=False, edgecolor='#555555', alpha=0.25, lw=5, clip_on=False, zorder=9)
box = Rectangle((region[0], 0.119), region[1] - region[0], 0.873, transform=tr,
                fill=False, edgecolor='#ff2a0a', lw=5, clip_on=False, zorder=10)
fig.add_artist(shadow)
fig.add_artist(box)
fig.text(0.4574, 0.0234, 'G6pc2', ha='center', va='center', fontsize=36,
         family='Liberation Sans', fontweight='normal', color='#c40000')

fig.savefig('out.png', dpi=100)
